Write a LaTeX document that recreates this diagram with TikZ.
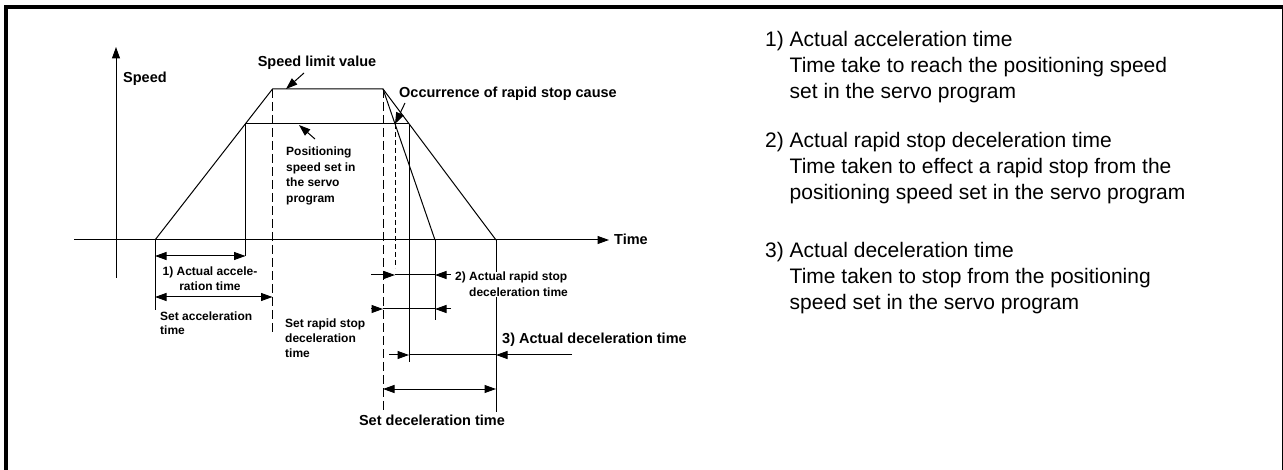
\documentclass[tikz,border=0pt]{standalone}
\usepackage{fontspec}
\setmainfont{Liberation Sans}
\usetikzlibrary{arrows.meta}

\begin{document}
\begin{tikzpicture}[x=1pt,y=-1pt,
  ln/.style={line width=1pt},
  tip/.style={-{Triangle[length=11.5pt,width=8pt]}},
  dim/.style={{Triangle[length=11.5pt,width=8pt]}-{Triangle[length=11.5pt,width=8pt]}},
  longdash/.style={dash pattern=on 9pt off 4pt},
  shortdash/.style={dash pattern=on 5pt off 3pt},
  lbl/.style={font=\fontsize{14.5}{17}\selectfont\bfseries, inner sep=0pt},
  small/.style={font=\fontsize{12}{15}\selectfont\bfseries, inner sep=0pt, align=left},
  note/.style={font=\fontsize{21}{26}\selectfont, inner sep=0pt, align=left},
]
\useasboundingbox (0,0) rectangle (1283,470);
% outer frame (open at the bottom)
\draw[line width=3.6pt] (6,480) -- (6,7) -- (1283.4,7) -- (1283.4,480);

% axes
\coordinate (tA) at (74,240);  \coordinate (tB) at (609,240);
\coordinate (sA) at (116,278); \coordinate (sB) at (116,47);
\draw[ln,tip] (tA) -- (tB);
\draw[ln,tip] (sA) -- (sB);
\node[lbl, anchor=base west] (speedlbl) at (123,83) {Speed};
\node[lbl, anchor=base west] (timelbl) at (614,245) {Time};

% speed profile
\coordinate (A0)   at (155,240);
\coordinate (P1)   at (245.5,124);
\coordinate (L1)   at (272.5,89);
\coordinate (L2)   at (383,89);
\coordinate (Occ)  at (395,124);
\coordinate (P2)   at (409,124);
\coordinate (Rend) at (435,240);
\coordinate (Dend) at (496,240);
\draw[ln] (A0) -- (L1) -- (L2) -- (Dend);
\draw[ln] (L2) -- (Rend);
\draw[ln] (P1) -- (P2);

% extension lines
\coordinate (e1) at (155,310);
\coordinate (e2) at (245.5,256);
\coordinate (e3) at (409,362);
\coordinate (e4) at (435,320);
\coordinate (e5) at (496,412);
\coordinate (e6) at (272.5,335);
\coordinate (e7) at (383,412);
\coordinate (e8) at (395,268);
\draw[ln] (A0) -- (e1);
\draw[ln] (P1) -- (e2);
\draw[ln] (P2) -- (e3);
\draw[ln] (Rend) -- (e4);
\draw[ln] (Dend) -- (e5);
\draw[ln,longdash] (L1) -- (e6);
\draw[ln,longdash] (L2) -- (e7);
\draw[ln,shortdash] (Occ) -- (e8);

% actual acceleration time
\coordinate (d1a) at (155,256); \coordinate (d1b) at (245.5,256);
\draw[ln,dim] (d1a) -- (d1b);
\node[small, align=center, anchor=north] (d1lbl) at (210,266.5) {1) Actual accele-\\ration time};

% set acceleration time
\coordinate (d2a) at (155,297); \coordinate (d2b) at (272.5,297);
\draw[ln,dim] (d2a) -- (d2b);
\node[small, anchor=north west, font=\fontsize{12}{14}\selectfont\bfseries] (d2lbl) at (160,311.5) {Set acceleration\\time};

% actual rapid stop deceleration time
\coordinate (d3t1) at (371,275); \coordinate (d3a) at (395,275);
\coordinate (d3b) at (435,275);  \coordinate (d3t2) at (451,275);
\draw[ln,tip] (d3t1) -- (d3a);
\draw[ln] (d3a) -- (d3b);
\draw[ln,tip] (d3t2) -- (d3b);
\node[small, anchor=north west, fill=white, font=\fontsize{12}{16}\selectfont\bfseries] (d3lbl) at (455,271.5) {2)~Actual rapid stop\\\hphantom{2)~}deceleration time};

% set rapid stop deceleration time
\coordinate (d4t1) at (371,309); \coordinate (d4a) at (383,309);
\coordinate (d4b) at (435,309);  \coordinate (d4t2) at (451,309);
\draw[ln,tip] (d4t1) -- (d4a);
\draw[ln] (d4a) -- (d4b);
\draw[ln,tip] (d4t2) -- (d4b);
\node[small, anchor=north west] (d4lbl) at (285,318.5) {Set rapid stop\\deceleration\\time};

% actual deceleration time
\coordinate (d5t1) at (389,355); \coordinate (d5a) at (409,355);
\coordinate (d5b) at (496,355);  \coordinate (d5t2) at (572,355);
\draw[ln,tip] (d5t1) -- (d5a);
\draw[ln] (d5a) -- (d5b);
\draw[ln,tip] (d5t2) -- (d5b);
\node[lbl, anchor=base west] (d5lbl) at (502,344) {3) Actual deceleration time};

% set deceleration time
\coordinate (d6a) at (383,389); \coordinate (d6b) at (496,389);
\draw[ln,dim] (d6a) -- (d6b);
\node[lbl, anchor=base] (d6lbl) at (432,425) {Set deceleration time};

% pointer labels
\node[lbl, anchor=base] (limlbl) at (317,67) {Speed limit value};
\coordinate (limtail) at (304,73); \coordinate (limtip) at (286,89);
\draw[ln,tip] (limtail) -- (limtip);

\node[small, anchor=north west, font=\fontsize{12}{15.5}\selectfont\bfseries] (poslbl) at (286,147) {Positioning\\speed set in\\the servo\\program};
\coordinate (postail) at (315,139); \coordinate (postip) at (299,125);
\draw[ln,tip] (postail) -- (postip);

\node[lbl, anchor=base west] (occlbl) at (399,98) {Occurrence of rapid stop cause};
\coordinate (occtail) at (405,103); \coordinate (occtip) at (Occ);
\draw[ln,tip] (occtail) -- (occtip);

% explanatory notes
\node[note, anchor=north west] (n1) at (765,30.7) {1)~Actual acceleration time\\\hphantom{1)~}Time take to reach the positioning speed\\\hphantom{1)~}set in the servo program};
\node[note, anchor=north west] (n2) at (765,131.7) {2)~Actual rapid stop deceleration time\\\hphantom{2)~}Time taken to effect a rapid stop from the\\\hphantom{2)~}positioning speed set in the servo program};
\node[note, anchor=north west] (n3) at (765,241.7) {3)~Actual deceleration time\\\hphantom{3)~}Time taken to stop from the positioning\\\hphantom{3)~}speed set in the servo program};
\end{tikzpicture}
\end{document}
